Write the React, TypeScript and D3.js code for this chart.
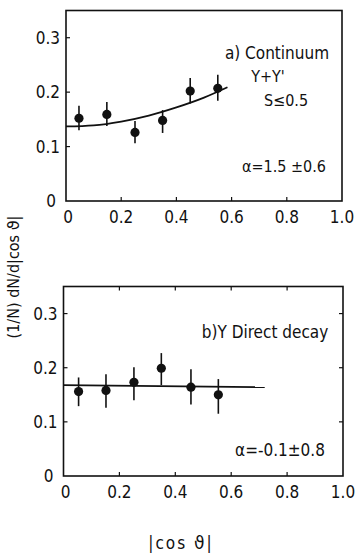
import React from "react";
import * as d3 from "d3";

// Panel a) Continuum
const binsA = [0.047, 0.148, 0.25, 0.35, 0.45, 0.55];
const valsA = [0.152, 0.159, 0.126, 0.148, 0.202, 0.207];
const errLoA = [0.13, 0.138, 0.106, 0.125, 0.179, 0.184];
const errHiA = [0.175, 0.182, 0.147, 0.167, 0.226, 0.232];
const fitXA = [0, 0.1, 0.2, 0.3, 0.4, 0.5, 0.585];
const fitYA = [0.137, 0.139, 0.146, 0.157, 0.172, 0.19, 0.209];

// Panel b) Direct decay
const binsB = [0.054, 0.152, 0.252, 0.35, 0.456, 0.554];
const valsB = [0.156, 0.158, 0.173, 0.199, 0.164, 0.15];
const errLoB = [0.129, 0.126, 0.14, 0.168, 0.132, 0.115];
const errHiB = [0.182, 0.188, 0.201, 0.227, 0.197, 0.179];
const fitXB = [0, 0.72];
const fitYB = [0.168, 0.164];

const xTicks = [0, 0.2, 0.4, 0.6, 0.8, 1.0];
const xTickLabels = ["0", "0.2", "0.4", "0.6", "0.8", "1.0"];
const yTicks = [0, 0.1, 0.2, 0.3];
const yTickLabels = ["0", "0.1", "0.2", "0.3"];

const FONT = "'Liberation Sans Narrow', 'DejaVu Sans Condensed', 'DejaVu Sans', sans-serif";
const THETA_FONT = "'DejaVu Sans', sans-serif";

type PanelProps = {
  x0: number; x1: number; y0: number; y1: number;
  bins: number[]; vals: number[]; lo: number[]; hi: number[];
  fx: number[]; fy: number[];
  mirrorTicks: boolean;
  curve: boolean;
};

function Panel(p: PanelProps) {
  const x = d3.scaleLinear().domain([0, 1]).range([p.x0, p.x1]);
  const y = d3.scaleLinear().domain([0, 0.35]).range([p.y0, p.y1]);
  const fit = p.fx.map((v, i) => [v, p.fy[i]] as [number, number]);
  const line = d3
    .line<[number, number]>()
    .x((d) => x(d[0]))
    .y((d) => y(d[1]))
    .curve(p.curve ? d3.curveMonotoneX : d3.curveLinear);
  const tl = 4;
  return (
    <g>
      <rect x={x(0)} y={y(0.35)} width={x(1) - x(0)} height={y(0) - y(0.35)} fill="none" stroke="#111" strokeWidth={1.6} />
      {xTicks.slice(1, -1).map((t) => (
        <g key={"xt" + t}>
          <line x1={x(t)} x2={x(t)} y1={y(0)} y2={y(0) - tl} stroke="#111" strokeWidth={1.2} />
          {p.mirrorTicks && <line x1={x(t)} x2={x(t)} y1={y(0.35)} y2={y(0.35) + tl} stroke="#111" strokeWidth={1.2} />}
        </g>
      ))}
      {yTicks.slice(1).map((t) => (
        <g key={"yt" + t}>
          <line x1={x(0)} x2={x(0) + tl} y1={y(t)} y2={y(t)} stroke="#111" strokeWidth={1.2} />
          {p.mirrorTicks && <line x1={x(1)} x2={x(1) - tl} y1={y(t)} y2={y(t)} stroke="#111" strokeWidth={1.2} />}
        </g>
      ))}
      {xTicks.map((t, i) => (
        <text key={"xl" + t} x={x(t) + (i === 0 ? 2 : 0)} y={y(0) + 22} textAnchor="middle" fontSize={17} fontFamily={FONT} fill="#111">
          {xTickLabels[i]}
        </text>
      ))}
      {yTicks.map((t, i) => (
        <text key={"yl" + t} x={x(0) - (i === 0 ? 10 : 6)} y={y(t) + 6} textAnchor="end" fontSize={17} fontFamily={FONT} fill="#111">
          {yTickLabels[i]}
        </text>
      ))}
      <path d={line(fit) || ""} fill="none" stroke="#111" strokeWidth={1.8} />
      {p.bins.map((b, i) => (
        <g key={"pt" + i}>
          <line x1={x(b)} x2={x(b)} y1={y(p.lo[i])} y2={y(p.hi[i])} stroke="#111" strokeWidth={1.6} />
          <circle cx={x(b)} cy={y(p.vals[i])} r={4.6} fill="#111" />
        </g>
      ))}
    </g>
  );
}

export default function App() {
  return (
    <svg width={359} height={560} style={{ position: "absolute", left: 0, top: 0, background: "#fff" }}>
      <rect width={359} height={560} fill="#fff" />
      <Panel x0={66} x1={342} y0={201} y1={10.5} bins={binsA} vals={valsA} lo={errLoA} hi={errHiA} fx={fitXA} fy={fitYA} mirrorTicks={false} curve={true} />
      <Panel x0={63.5} x1={343} y0={476} y1={286.5} bins={binsB} vals={valsB} lo={errLoB} hi={errHiB} fx={fitXB} fy={fitYB} mirrorTicks={true} curve={false} />

      <g fontFamily={FONT} fill="#111">
        <text x={277} y={59} textAnchor="middle" fontSize={17}>a) Continuum</text>
        <text x={268} y={82} textAnchor="middle" fontSize={16}>Υ+Υ'</text>
        <text x={286} y={106} textAnchor="middle" fontSize={16}>S≤0.5</text>
        <text x={284} y={172} textAnchor="middle" fontSize={16}>α=1.5 ±0.6</text>

        <text x={265} y={338} textAnchor="middle" fontSize={17}>b)Υ Direct decay</text>
        <text x={280} y={456} textAnchor="middle" fontSize={17}>α=-0.1±0.8</text>

        <text x={181} y={549} textAnchor="middle" fontSize={17} letterSpacing={2}>
          |cos <tspan fontFamily={THETA_FONT}>ϑ</tspan>|
        </text>
        <text transform="translate(19,277) rotate(-90)" textAnchor="middle" fontSize={16}>
          (1/N)  dN/d|cos <tspan fontFamily={THETA_FONT}>ϑ</tspan>|
        </text>
      </g>
    </svg>
  );
}
